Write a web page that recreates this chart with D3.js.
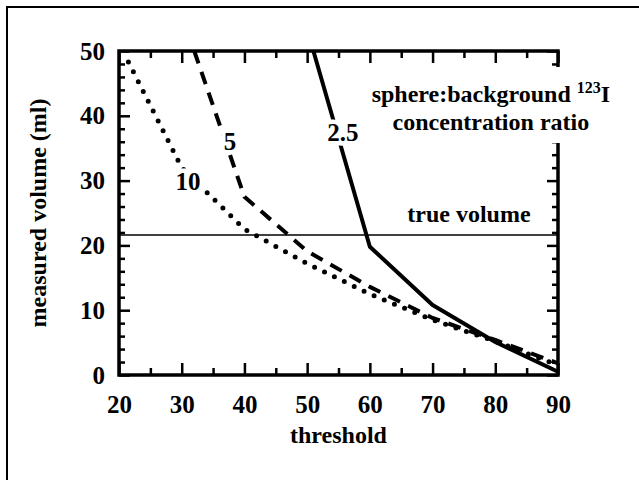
<!DOCTYPE html>
<html>
<head>
<meta charset="utf-8">
<script src="https://cdn.jsdelivr.net/npm/d3@7"></script>
<style>
  body { margin: 0; background: #fff; }
  svg text { font-family: 'Liberation Serif', 'Times New Roman', serif; fill: #000; font-weight: bold; }
</style>
</head>
<body>
<svg></svg>
<script>
// threshold (%) vs measured volume (ml), one array pair per concentration ratio
let thr25 = [51, 60, 70, 80, 90]
let vol25 = [50, 19.8, 10.8, 5.1, 0.5]

let thr5 = [32, 40, 50, 60, 70, 80, 90]
let vol5 = [50, 27.5, 19.1, 13.6, 8.8, 5.4, 1.8]

let thr10 = [21.5, 30, 40, 50, 60, 70, 80, 90]
let vol10 = [48.3, 32, 22.5, 17.2, 12.5, 8.5, 5.2, 1.5]

let trueVolume = 21.6

let xTicks = [20, 30, 40, 50, 60, 70, 80, 90]
let xMinor = [25, 35, 45, 55, 65, 75, 85]
let yTicks = [0, 10, 20, 30, 40, 50]
let yMinor = [2, 4, 6, 8, 12, 14, 16, 18, 22, 24, 26, 28, 32, 34, 36, 38, 42, 44, 46, 48]

let width = 639
let height = 480
let plotLeft = 119, plotRight = 558, plotTop = 51, plotBottom = 375

let svg = d3.select('svg').attr('width', width).attr('height', height)

let xScale = d3.scaleLinear().domain([20, 90]).range([plotLeft, plotRight])
let yScale = d3.scaleLinear().domain([0, 50]).range([plotBottom, plotTop])

let series = [
  {name: '2.5', x: thr25, y: vol25, dash: null, cap: 'butt'},
  {name: '5', x: thr5, y: vol5, dash: '13,9', cap: 'butt'},
  {name: '10', x: thr10, y: vol10, dash: '0,11', cap: 'round'}
]

// outer frame
svg.append('rect')
  .attr('x', 7).attr('y', 7)
  .attr('width', 700).attr('height', 700)
  .attr('fill', 'none').attr('stroke', '#000').attr('stroke-width', 2)

let styleAxis = (g) => {
  g.select('.domain').remove()
  g.selectAll('line').attr('stroke', '#000').attr('stroke-width', 2.5)
  g.selectAll('text').style('font-size', '25px')
}

svg.append('g').attr('transform', 'translate(0,' + plotBottom + ')')
  .call(d3.axisBottom(xScale).tickValues(xTicks).tickSize(-12).tickPadding(20).tickFormat(d3.format('d')))
  .call(styleAxis)
svg.append('g').attr('transform', 'translate(0,' + plotBottom + ')')
  .call(d3.axisBottom(xScale).tickValues(xMinor).tickSize(-7).tickFormat(''))
  .call(styleAxis)
svg.append('g').attr('transform', 'translate(0,' + plotTop + ')')
  .call(d3.axisTop(xScale).tickValues(xTicks).tickSize(-12).tickFormat(''))
  .call(styleAxis)
svg.append('g').attr('transform', 'translate(0,' + plotTop + ')')
  .call(d3.axisTop(xScale).tickValues(xMinor).tickSize(-7).tickFormat(''))
  .call(styleAxis)

svg.append('g').attr('transform', 'translate(' + plotLeft + ',0)')
  .call(d3.axisLeft(yScale).tickValues(yTicks).tickSize(-11).tickPadding(14))
  .call(styleAxis)
svg.append('g').attr('transform', 'translate(' + plotLeft + ',0)')
  .call(d3.axisLeft(yScale).tickValues(yMinor).tickSize(-6).tickFormat(''))
  .call(styleAxis)
svg.append('g').attr('transform', 'translate(' + plotRight + ',0)')
  .call(d3.axisRight(yScale).tickValues(yTicks).tickSize(-11).tickFormat(''))
  .call(styleAxis)
svg.append('g').attr('transform', 'translate(' + plotRight + ',0)')
  .call(d3.axisRight(yScale).tickValues(yMinor).tickSize(-6).tickFormat(''))
  .call(styleAxis)

// plot box
svg.append('rect')
  .attr('x', plotLeft).attr('y', plotTop)
  .attr('width', plotRight - plotLeft).attr('height', plotBottom - plotTop)
  .attr('fill', 'none').attr('stroke', '#000').attr('stroke-width', 3.5)

// true volume reference line
svg.append('line')
  .attr('x1', xScale(20)).attr('x2', xScale(90))
  .attr('y1', yScale(trueVolume)).attr('y2', yScale(trueVolume))
  .attr('stroke', '#000').attr('stroke-width', 1.6)

let line = d3.line().x(d => xScale(d[0])).y(d => yScale(d[1]))

series.forEach(s => {
  svg.append('path')
    .datum(s.x.map((v, i) => [v, s.y[i]]))
    .attr('d', line)
    .attr('fill', 'none')
    .attr('stroke', '#000')
    .attr('stroke-width', s.dash === '0,11' ? 5 : 4)
    .attr('stroke-dasharray', s.dash)
    .attr('stroke-linecap', s.cap)
    .attr('stroke-linejoin', 'round')
})

// curve labels, with a white halo that breaks the line
let curveLabels = [
  {text: '2.5', x: 55.7, y: 36.1},
  {text: '5', x: 37.7, y: 34.7},
  {text: '10', x: 31.0, y: 28.6}
]

svg.selectAll('.curve-label')
  .data(curveLabels)
  .enter()
  .append('text')
  .attr('class', 'curve-label')
  .attr('x', d => xScale(d.x))
  .attr('y', d => yScale(d.y))
  .attr('text-anchor', 'middle')
  .style('font-size', '25px')
  .style('paint-order', 'stroke')
  .style('stroke', '#fff')
  .style('stroke-width', 9)
  .text(d => d.text)

svg.append('text')
  .attr('x', xScale(75.8)).attr('y', yScale(23.6))
  .attr('text-anchor', 'middle')
  .style('font-size', '24px')
  .text('true volume')

// legend block covers part of the right axis
svg.append('rect')
  .attr('x', 360).attr('y', 67)
  .attr('width', 270).attr('height', 76)
  .attr('fill', '#fff')

let legend = svg.append('text')
  .attr('text-anchor', 'middle')
  .style('font-size', '24px')
legend.append('tspan')
  .attr('x', xScale(79.3)).attr('y', yScale(42.1))
  .text('sphere:background ')
legend.append('tspan')
  .attr('dy', -9)
  .style('font-size', '16px')
  .text('123')
legend.append('tspan')
  .attr('dy', 9)
  .text('I')
legend.append('tspan')
  .attr('x', xScale(79.3)).attr('y', yScale(37.8))
  .text('concentration ratio')

// axis titles
svg.append('text')
  .attr('x', (plotLeft + plotRight) / 2).attr('y', 443)
  .attr('text-anchor', 'middle')
  .style('font-size', '24px')
  .text('threshold')

svg.append('text')
  .attr('transform', 'translate(46,' + (plotTop + plotBottom) / 2 + ') rotate(-90)')
  .attr('text-anchor', 'middle')
  .style('font-size', '24px')
  .text('measured volume (ml)')
</script>
</body>
</html>
